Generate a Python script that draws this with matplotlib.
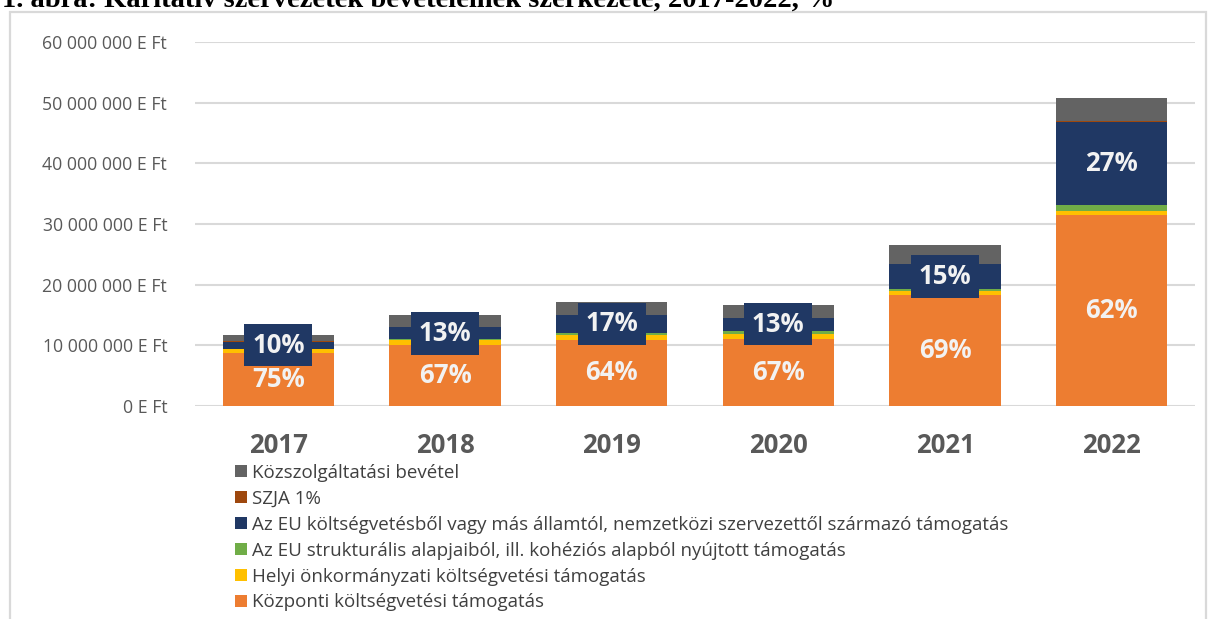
import matplotlib
matplotlib.use("Agg")
import matplotlib.pyplot as plt
from matplotlib.patches import Patch, Rectangle
import numpy as np

plt.rcParams['font.family'] = ['Open Sans', 'DejaVu Sans']

years = ["2017", "2018", "2019", "2020", "2021", "2022"]
# values in E Ft (thousand forints)
kozponti = [8_800_000, 10_050_000, 10_950_000, 11_100_000, 18_300_000, 31_500_000]
helyi = [550_000, 800_000, 800_000, 800_000, 650_000, 650_000]
eu_strukt = [100_000, 150_000, 350_000, 500_000, 400_000, 1_000_000]
eu_kolts = [1_170_000, 1_950_000, 2_900_000, 2_150_000, 4_000_000, 13_700_000]
szja = [20_000, 30_000, 30_000, 30_000, 50_000, 100_000]
kozszolg = [1_060_000, 2_000_000, 2_050_000, 2_100_000, 3_100_000, 3_850_000]

pct_kozponti = ["75%", "67%", "64%", "67%", "69%", "62%"]
pct_eu_kolts = ["10%", "13%", "17%", "13%", "15%", "27%"]

series_names = [
    "Központi költségvetési támogatás",
    "Helyi önkormányzati költségvetési támogatás",
    "Az EU strukturális alapjaiból, ill. kohéziós alapból nyújtott támogatás",
    "Az EU költségvetésből vagy más államtól, nemzetközi szervezettől származó támogatás",
    "SZJA 1%",
    "Közszolgáltatási bevétel",
]
colors = ["#ED7D31", "#FFC000", "#70AD47", "#203864", "#9E480E", "#636363"]
series = [kozponti, helyi, eu_strukt, eu_kolts, szja, kozszolg]

W, H = 1208, 619
fig = plt.figure(figsize=(W / 100, H / 100), dpi=100)

# outer frame
fig.patches.append(Rectangle((10 / W, -0.05), 1196 / W, (H - 12) / H + 0.05,
                             transform=fig.transFigure, fill=False,
                             edgecolor="#d9d9d9", linewidth=1.6, zorder=0))

# title (cut off at top, as in the source)
fig.text(2 / W, 1 - 7 / H, "1. ábra: Karitatív szervezetek bevételeinek szerkezete, 2017-2022, %",
         family="Liberation Serif", fontweight="bold", fontsize=20.5,
         ha="left", va="baseline", color="black")

ax = fig.add_axes([195 / W, 213 / H, 1000 / W, 364 / H])
x = np.arange(len(years))
bw = 0.667
bottom = np.zeros(len(years))
for vals, col in zip(series, colors):
    v = np.array(vals, dtype=float)
    ax.bar(x, v, bw, bottom=bottom, color=col, zorder=3, linewidth=0)
    if col == "#ED7D31":
        orange_bottom = bottom.copy(); orange_vals = v.copy()
    if col == "#203864":
        navy_bottom = bottom.copy(); navy_vals = v.copy()
    bottom += v

for i in range(len(years)):
    ax.text(x[i], orange_bottom[i] + orange_vals[i] / 2, pct_kozponti[i],
            ha="center", va="center", color="#F2F2F2", fontsize=18.5,
            fontweight="bold", zorder=5)
    ax.text(x[i], navy_bottom[i] + navy_vals[i] / 2, pct_eu_kolts[i],
            ha="center", va="center", color="#F2F2F2", fontsize=18.5,
            fontweight="bold", zorder=5,
            bbox=dict(boxstyle="square,pad=0.3", facecolor="#203864",
                      edgecolor="none"))

ax.set_xlim(-0.5, len(years) - 0.5)
ax.set_ylim(0, 60_000_000)
ax.set_yticks(np.arange(0, 60_000_001, 10_000_000))
ax.set_yticklabels([f"{int(t):,} E Ft".replace(",", " ") for t in ax.get_yticks()])
ax.set_xticks(x)
ax.set_xticklabels(years, fontweight="bold", fontsize=18.5, color="#595959")
ax.tick_params(axis="x", length=0, pad=19)
ax.tick_params(axis="y", length=0, pad=20, labelsize=12.7, labelcolor="#595959")
ax.grid(axis="y", color="#d9d9d9", linewidth=1.5, zorder=0)
for s in ax.spines.values():
    s.set_visible(False)

handles = [Patch(facecolor=c, edgecolor="none") for c in colors][::-1]
labels = series_names[::-1]
fig.legend(handles, labels, loc="upper left", bbox_to_anchor=(235 / W, 1 - 464 / H),
           frameon=False, fontsize=13.5, labelcolor="#404040",
           handlelength=0.62, handleheight=0.62, handletextpad=0.3,
           labelspacing=0.42, borderpad=0, borderaxespad=0)

fig.savefig("out.png", dpi=100)
